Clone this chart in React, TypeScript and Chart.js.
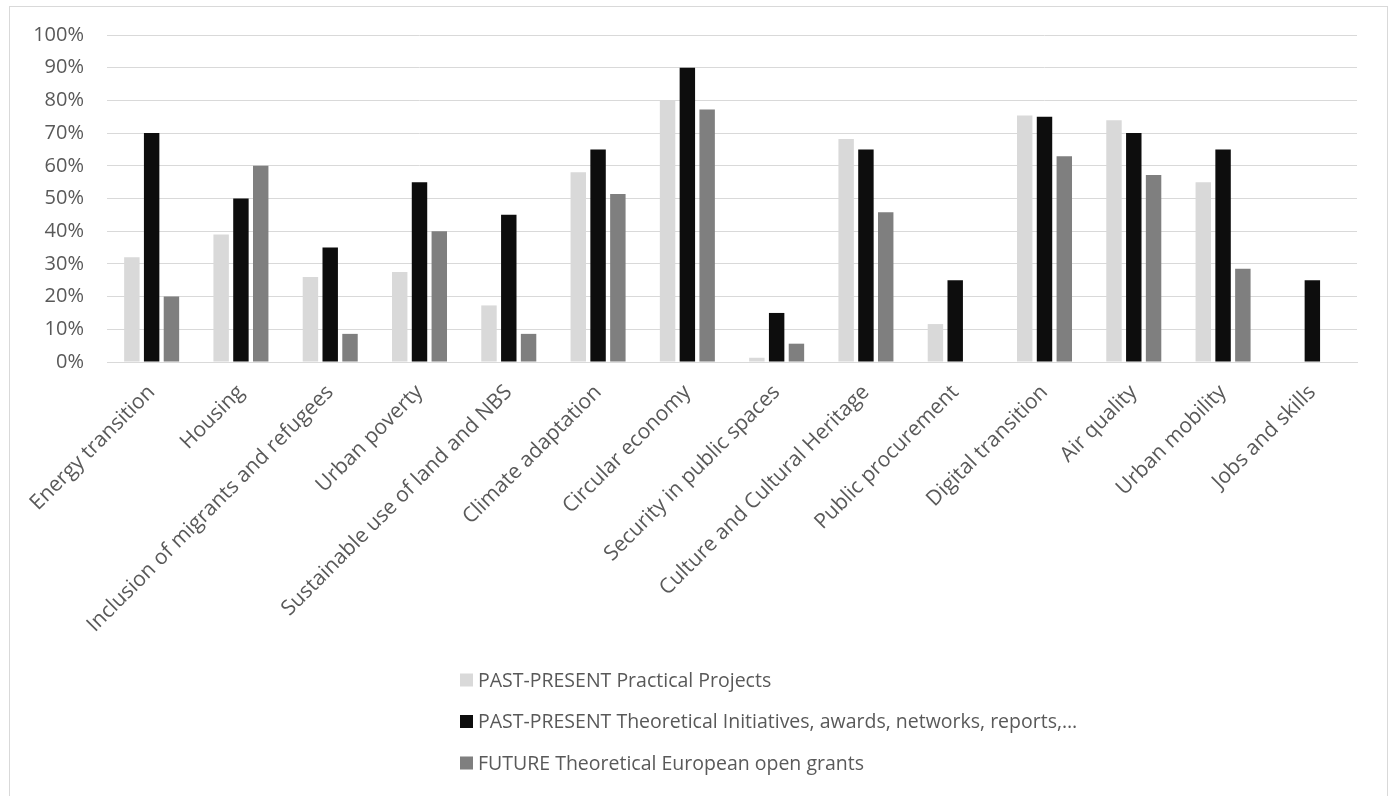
import React, { useEffect, useRef } from "react";
import { Chart, registerables } from "chart.js";

Chart.register(...registerables);

const categories = [
  "Energy transition",
  "Housing",
  "Inclusion of migrants and refugees",
  "Urban poverty",
  "Sustainable use of land and NBS",
  "Climate adaptation",
  "Circular economy",
  "Security in public spaces",
  "Culture and Cultural Heritage",
  "Public procurement",
  "Digital transition",
  "Air quality",
  "Urban mobility",
  "Jobs and skills",
];

const practicalProjects = [32, 39, 26, 27.5, 17.3, 58, 80, 1.3, 68.2, 11.6, 75.4, 73.9, 55, 0];
const theoreticalInitiatives = [70, 50, 35, 55, 45, 65, 90, 15, 65, 25, 75, 70, 65, 25];
const futureGrants = [20, 60, 8.6, 40, 8.6, 51.4, 77.2, 5.6, 45.8, 0, 62.9, 57.2, 28.5, 0];

const seriesLabels = [
  "PAST-PRESENT Practical Projects",
  "PAST-PRESENT Theoretical Initiatives, awards, networks, reports,…",
  "FUTURE Theoretical European open grants",
];

const yTicks = [0, 10, 20, 30, 40, 50, 60, 70, 80, 90, 100];

const FONT = '"Open Sans", "Noto Sans", sans-serif';
const TEXT_COLOR = "#595959";

const legendPlugin = {
  id: "customLegend",
  afterDraw(chart: any) {
    const ctx = chart.ctx;
    ctx.save();
    ctx.font = `19.5px ${FONT}`;
    ctx.textBaseline = "middle";
    ctx.textAlign = "left";
    const x0 = 450;
    const y0 = 673;
    const gap = 41.5;
    chart.data.datasets.forEach((ds: any, i: number) => {
      const y = y0 + i * gap;
      ctx.fillStyle = ds.backgroundColor;
      ctx.fillRect(x0, y - 6.5, 13, 13);
      ctx.fillStyle = TEXT_COLOR;
      ctx.fillText(ds.label, x0 + 18, y + 1);
    });
    ctx.restore();
  },
};

export default function App() {
  const ref = useRef<HTMLCanvasElement | null>(null);

  useEffect(() => {
    if (!ref.current) return;
    const chart = new Chart(ref.current, {
      type: "bar",
      data: {
        labels: categories,
        datasets: [
          { label: seriesLabels[0], data: practicalProjects, backgroundColor: "#d9d9d9" },
          { label: seriesLabels[1], data: theoreticalInitiatives, backgroundColor: "#0d0d0d" },
          { label: seriesLabels[2], data: futureGrants, backgroundColor: "#7f7f7f" },
        ],
      },
      options: {
        animation: false,
        responsive: true,
        maintainAspectRatio: false,
        datasets: {
          bar: { categoryPercentage: 0.665, barPercentage: 0.78 },
        },
        layout: { padding: { top: 28, right: 30, bottom: 134, left: 0 } },
        plugins: {
          legend: { display: false },
          tooltip: { enabled: false },
        },
        scales: {
          x: {
            grid: { display: false, drawTicks: false },
            border: { display: true, color: "#d9d9d9", width: 1 },
            ticks: {
              minRotation: 45,
              maxRotation: 45,
              autoSkip: false,
              padding: 18,
              color: TEXT_COLOR,
              font: { family: FONT, size: 21 },
            },
            afterFit(scale: any) {
              scale.height = 300;
              scale.paddingLeft = 0;
              scale.paddingRight = 0;
            },
          },
          y: {
            min: 0,
            max: 100,
            afterBuildTicks(scale: any) {
              scale.ticks = yTicks.map((v) => ({ value: v }));
            },
            grid: { color: "#d9d9d9", lineWidth: 1, drawTicks: false },
            border: { display: false },
            ticks: {
              padding: 23,
              color: TEXT_COLOR,
              font: { family: FONT, size: 20 },
              callback: (v: any) => `${v}%`,
            },
            afterFit(scale: any) {
              scale.width = 97;
              scale.paddingTop = 0;
              scale.paddingBottom = 0;
            },
          },
        },
      },
      plugins: [legendPlugin],
    });
    return () => chart.destroy();
  }, []);

  return (
    <div
      style={{
        position: "absolute",
        left: 9,
        top: 6,
        width: 1379,
        height: 800,
        boxSizing: "border-box",
        border: "1px solid #d9d9d9",
        background: "#fff",
      }}
    >
      <div style={{ position: "relative", width: 1377, height: 789 }}>
        <canvas ref={ref} />
      </div>
    </div>
  );
}
